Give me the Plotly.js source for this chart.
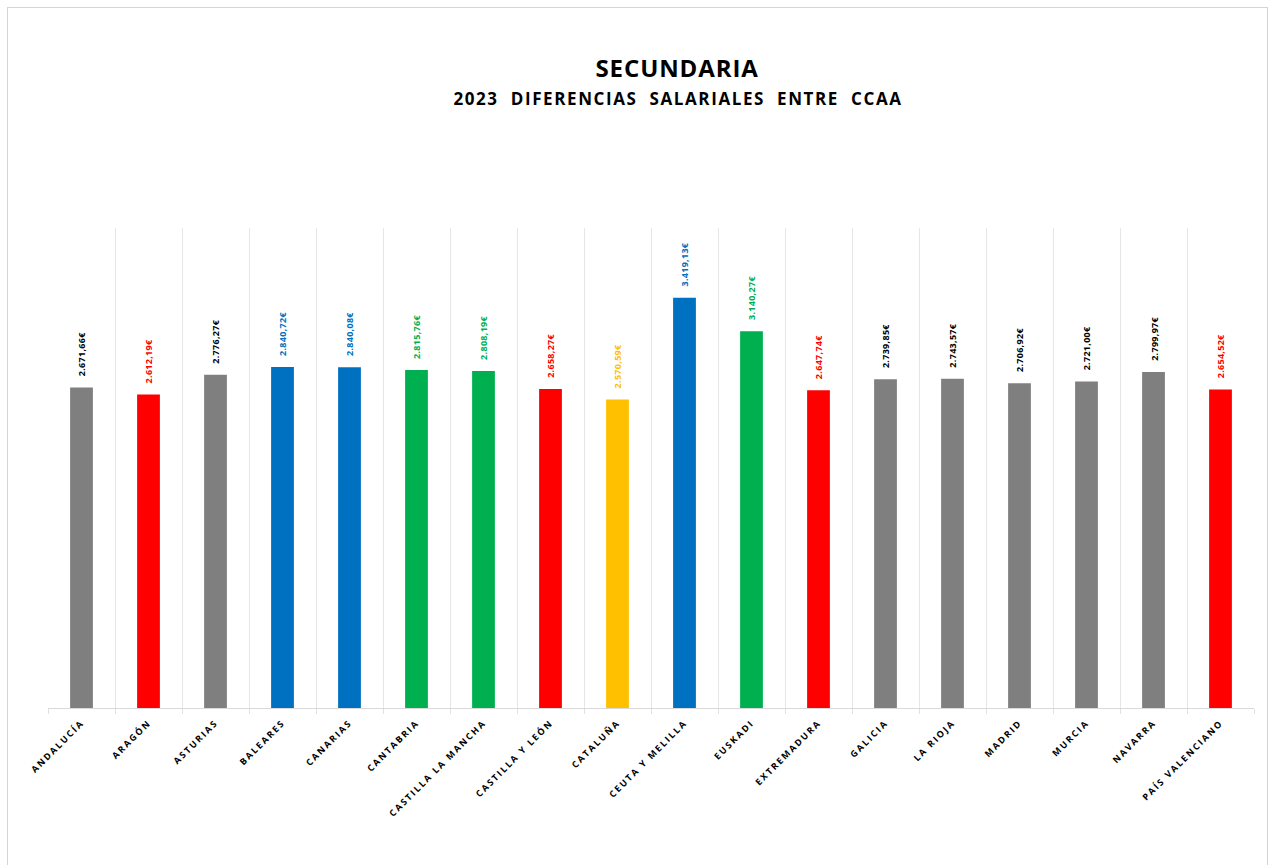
<!DOCTYPE html>
<html>
<head>
<meta charset="utf-8">
<script src="https://cdn.plot.ly/plotly-3.0.1.min.js"></script>
<style>
  html, body { margin: 0; padding: 0; background: #fff; }
  #frame { position: absolute; left: 7px; top: 7px; width: 1261px; height: 870px; border: 1px solid #d4d4d4; box-sizing: border-box; }
  #chart { position: absolute; left: 0; top: 0; width: 1272px; height: 865px; }
  .xtick text { letter-spacing: 1.9px; }
  g.annotation text { letter-spacing: 0.3px; }
  g.annotation[data-index="18"] text { letter-spacing: 0.9px; }
  g.annotation[data-index="19"] text { letter-spacing: 1.6px; }
</style>
</head>
<body>
<div id="frame"></div>
<div id="chart"></div>
<script>
// ---- data ----
const categories = ["ANDALUCÍA", "ARAGÓN", "ASTURIAS", "BALEARES", "CANARIAS", "CANTABRIA",
  "CASTILLA LA MANCHA", "CASTILLA Y LEÓN", "CATALUÑA", "CEUTA Y MELILLA", "EUSKADI",
  "EXTREMADURA", "GALICIA", "LA RIOJA", "MADRID", "MURCIA", "NAVARRA", "PAÍS VALENCIANO"];
const salaries = [2671.66, 2612.19, 2776.27, 2840.72, 2840.08, 2815.76, 2808.19, 2658.27,
  2570.59, 3419.13, 3140.27, 2647.74, 2739.85, 2743.57, 2706.92, 2721.00, 2799.97, 2654.52];
const groups = ["grey", "red", "grey", "blue", "blue", "green", "green", "red", "yellow",
  "blue", "green", "red", "grey", "grey", "grey", "grey", "grey", "red"];
const titleText = "SECUNDARIA";
const subtitleText = "2023\u00a0\u00a0DIFERENCIAS\u00a0\u00a0SALARIALES\u00a0\u00a0ENTRE\u00a0\u00a0CCAA";

// ---- styles ----
const barColorOf = { grey: "#7f7f7f", red: "#ff0000", blue: "#0070c0", green: "#00b050", yellow: "#ffc000" };
const labelColorOf = { grey: "#000000", red: "#ff0000", blue: "#0070c0", green: "#00b050", yellow: "#ffc000" };

function fmtEuro(v) {
  const parts = v.toFixed(2).split(".");
  const intPart = parts[0].replace(/\B(?=(\d{3})+(?!\d))/g, ".");
  return intPart + "," + parts[1] + "€";
}

const trace = {
  type: "bar",
  x: categories,
  y: salaries,
  marker: { color: groups.map(g => barColorOf[g]) },
  width: 0.34,
  hoverinfo: "x+y"
};

const annotations = categories.map((c, i) => ({
  x: c, y: salaries[i], xref: "x", yref: "y",
  text: fmtEuro(salaries[i]),
  textangle: -90,
  showarrow: false,
  xanchor: "center", yanchor: "bottom",
  yshift: 10,
  font: { family: "Open Sans, sans-serif", size: 9, color: labelColorOf[groups[i]], weight: "bold" }
}));

annotations.push({
  xref: "paper", yref: "paper", x: 0.522, y: 1, yshift: 161,
  xanchor: "center", yanchor: "middle", showarrow: false,
  text: "<b>" + titleText + "</b>",
  font: { family: "Open Sans, sans-serif", size: 24, color: "#000" }
});
annotations.push({
  xref: "paper", yref: "paper", x: 0.522, y: 1, yshift: 130,
  xanchor: "center", yanchor: "middle", showarrow: false,
  text: "<b>" + subtitleText + "</b>",
  font: { family: "Open Sans, sans-serif", size: 17, color: "#000" }
});

const layout = {
  width: 1272, height: 865,
  margin: { l: 48, r: 18, t: 228, b: 157 },
  paper_bgcolor: "rgba(0,0,0,0)",
  plot_bgcolor: "rgba(0,0,0,0)",
  showlegend: false,
  xaxis: {
    type: "category",
    tickson: "boundaries",
    showgrid: true, gridcolor: "#e6e6e6", gridwidth: 1,
    showline: true, linecolor: "#d9d9d9", linewidth: 1,
    ticks: "outside", ticklen: 5, tickcolor: "#e0e0e0",
    tickangle: -45,
    ticklabelstandoff: 5,
    tickfont: { family: "Open Sans, sans-serif", size: 9, color: "#000", weight: "bold" },
    range: [-0.5, 17.5]
  },
  yaxis: {
    range: [0, 4000],
    showgrid: false, zeroline: false, showticklabels: false, ticks: ""
  },
  annotations: annotations
};

Plotly.newPlot("chart", [trace], layout, { displayModeBar: false, staticPlot: true });
</script>
</body>
</html>
